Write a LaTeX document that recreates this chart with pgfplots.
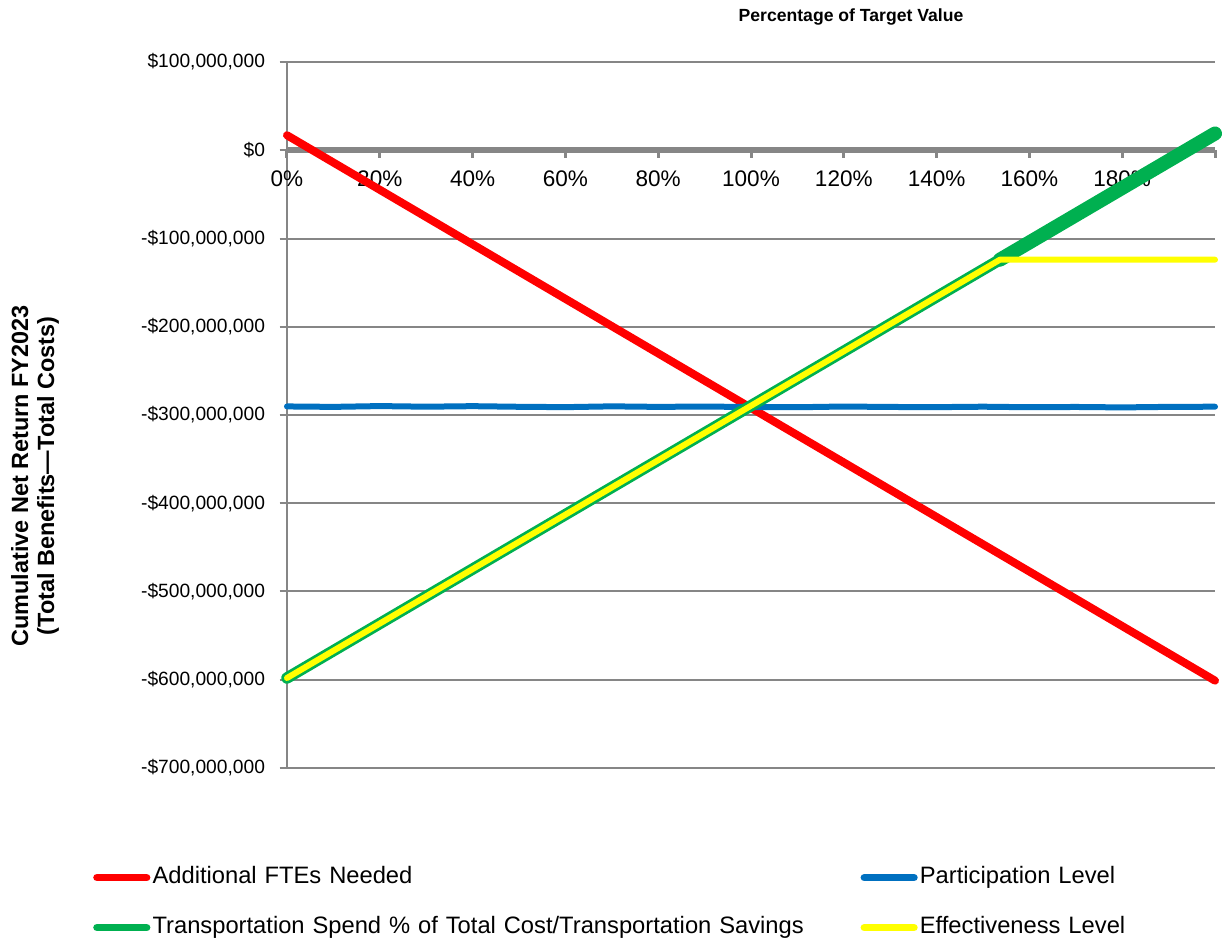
\documentclass[border=0pt]{standalone}
\usepackage{fontspec}
\setmainfont{Liberation Sans}
\usepackage{pgfplots}
\pgfplotsset{compat=1.18}
\definecolor{cRed}{HTML}{FF0000}
\definecolor{cBlue}{HTML}{0070C0}
\definecolor{cGreen}{HTML}{00B050}
\definecolor{cYellow}{HTML}{FFFF00}
\definecolor{axgray}{HTML}{868686}
\begin{document}
\begin{tikzpicture}
\useasboundingbox (-215.25pt,-127.5pt) rectangle (703.5pt,576pt);
\begin{axis}[
  at={(0pt,0pt)}, anchor=south west,
  scale only axis, width=696pt, height=529.5pt,
  xmin=0, xmax=2, ymin=-700, ymax=100,
  clip=false,
  axis x line*=middle, axis y line*=left,
  hide obscured x ticks=false,
  x axis line style={draw=axgray, line width=4.8pt},
  y axis line style={draw=axgray, line width=1.5pt},
  tick align=outside,
  major tick length=5.5pt,
  xtick={0,0.2,0.4,0.6,0.8,1,1.2,1.4,1.6,1.8,2},
  xticklabels={0\%,20\%,40\%,60\%,80\%,100\%,120\%,140\%,160\%,180\%,{}},
  ytick={-700,-600,-500,-400,-300,-200,-100,0,100},
  yticklabels={{-\$700,000,000},{-\$600,000,000},{-\$500,000,000},{-\$400,000,000},{-\$300,000,000},{-\$200,000,000},{-\$100,000,000},{\$0},{\$100,000,000}},
  ymajorgrids, grid style={draw=axgray, line width=1.5pt},
  xtick style={draw=axgray, line width=2.25pt},
  ytick style={draw=axgray, line width=1.5pt},
  yticklabel style={font=\fontsize{14.4pt}{17pt}\selectfont, xshift=-7.5pt},
  xticklabel style={font=\fontsize{16.9pt}{19pt}\selectfont, yshift=-6pt},
  legend columns=2,
  legend cell align=left,
  legend style={draw=none, fill=none, inner sep=0pt,
    at={(axis description cs:-0.2091,-0.1388)}, anchor=north west,
    font=\fontsize{17.8pt}{20pt}\selectfont,
    row sep=20.5pt, column sep=0pt,
    nodes={inner xsep=1.5pt, inner ysep=0pt, text width=529.5pt, text height=13pt, text depth=4pt}},
  legend image code/.code={%
    \pgfpathmoveto{\pgfqpoint{0pt}{0pt}}\pgfpathlineto{\pgfqpoint{43pt}{0pt}}\pgfusepath{discard}%
    \draw[#1, line width=5.8pt, line cap=round] (2.9pt,0pt) -- (40pt,0pt);},
]
\addplot[cRed, line width=6pt, line cap=round] coordinates {(0,17) (2,-601)};
\addlegendentry{Additional FTEs Needed}
\addplot[cBlue, line width=4.5pt, line cap=round, line join=round] coordinates {
(0,-290.3) (0.1,-290.8) (0.2,-289.9) (0.3,-290.6) (0.4,-290.0) (0.5,-290.7)
(0.6,-291.1) (0.7,-290.2) (0.8,-290.8) (0.9,-290.4) (1.0,-291.0) (1.1,-291.2)
(1.2,-290.4) (1.3,-290.9) (1.4,-291.1) (1.5,-290.6) (1.6,-291.2) (1.7,-290.9)
(1.8,-291.4) (1.9,-290.8) (2.0,-290.6)};
\addlegendentry{Participation Level}
\addplot[cGreen, line width=8.6pt, line cap=round] coordinates {(0,-598) (2,19)};
\addlegendentry{Transportation Spend \% of Total Cost/Transportation Savings}
\addplot[cGreen, line width=10.5pt, line cap=round, forget plot] coordinates {(1.5365,-124) (2,19)};
\addplot[cYellow, line width=4.5pt, line cap=round, line join=round] coordinates {(0,-598) (1.5365,-124) (2,-124)};
\addlegendentry{Effectiveness Level}
\end{axis}
\node[font=\bfseries\fontsize{13.2pt}{15pt}\selectfont] at (423pt,563.25pt) {Percentage of Target Value};
\node[font=\bfseries\fontsize{17.6pt}{19.5pt}\selectfont, rotate=90, align=center] at (-189pt,219pt) {Cumulative Net Return FY2023\\(Total Benefits—Total Costs)};
\end{tikzpicture}
\end{document}
